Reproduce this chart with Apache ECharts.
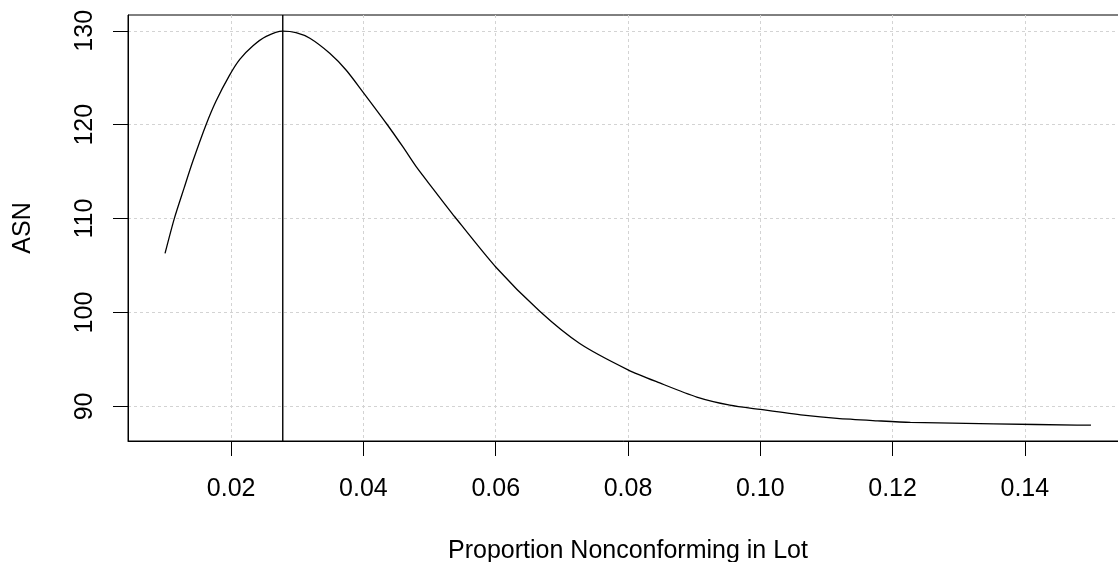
<!DOCTYPE html>
<html><head><meta charset="utf-8">
<script src="https://cdn.jsdelivr.net/npm/echarts@6/dist/echarts.min.js"></script>
<style>html,body{margin:0;padding:0;background:#fff}#c{width:1118px;height:562px}</style>
</head><body><div id="c"></div>
<script>
// Proportion nonconforming (x) and ASN (y)
const pValues = [0.010, 0.0114, 0.0129, 0.0142, 0.0162, 0.0177, 0.0197, 0.0213, 0.0233, 0.0253,
  0.0278, 0.0298, 0.0319, 0.0349, 0.0374, 0.0399, 0.0435, 0.0460, 0.0480, 0.0505,
  0.0538, 0.0600, 0.0667, 0.0727, 0.0800, 0.0848, 0.0904, 0.0954, 0.1000, 0.1065,
  0.1116, 0.1177, 0.1227, 0.1353, 0.1479, 0.1500];
const asnValues = [106.3, 110.0, 113.3, 116.1, 120.0, 122.5, 125.2, 126.95, 128.4, 129.4,
  129.96, 129.8, 129.2, 127.6, 125.8, 123.5, 120.1, 117.6, 115.5, 113.2,
  110.2, 104.85, 100.1, 96.7, 93.9, 92.5, 91.0, 90.14, 89.68, 89.07,
  88.72, 88.47, 88.30, 88.15, 88.01, 88.0];
const xTicks = [0.02, 0.04, 0.06, 0.08, 0.10, 0.12, 0.14];
const yTicks = [90, 100, 110, 120, 130];
const peakP = 0.0278;
const xRange = [0.0044, 0.1556];
const yRange = [86.32, 131.68];
const xTitle = 'Proportion Nonconforming in Lot';
const yTitle = 'ASN';

const FONT = 'Liberation Sans, Arial, sans-serif';
const chart = echarts.init(document.getElementById('c'), null, {renderer: 'canvas'});
const dataPairs = pValues.map((p, i) => [p, asnValues[i]]);
const gridLine = {show: true, lineStyle: {color: '#d3d3d3', width: 1, type: [3, 3]}};
chart.setOption({
  animation: false,
  backgroundColor: '#fff',
  grid: {left: 128, top: 15, right: -10, bottom: 121, outerBoundsMode: 'none', containLabel: false,
    show: true, borderColor: '#000', borderWidth: 1, backgroundColor: 'transparent'},
  xAxis: {
    type: 'value', min: xRange[0], max: xRange[1],
    name: xTitle, nameLocation: 'middle', nameGap: 98,
    nameTextStyle: {color: '#000', fontSize: 25, fontFamily: FONT},
    axisLine: {show: true, onZero: false, lineStyle: {color: '#000', width: 1}},
    axisTick: {show: true, inside: false, length: 15, customValues: xTicks, lineStyle: {color: '#000', width: 1}},
    axisLabel: {show: true, customValues: xTicks, margin: 36, color: '#000', fontSize: 25, fontFamily: FONT,
      formatter: v => v.toFixed(2)},
    splitLine: gridLine
  },
  yAxis: {
    type: 'value', min: yRange[0], max: yRange[1],
    name: yTitle, nameLocation: 'middle', nameGap: 92, nameRotate: 90,
    nameTextStyle: {color: '#000', fontSize: 25, fontFamily: FONT},
    axisLine: {show: true, onZero: false, lineStyle: {color: '#000', width: 1}},
    axisTick: {show: true, inside: false, length: 15, customValues: yTicks, lineStyle: {color: '#000', width: 1}},
    axisLabel: {show: true, customValues: yTicks, rotate: 90, margin: 30, color: '#000', fontSize: 25, fontFamily: FONT},
    splitLine: gridLine
  },
  series: [{
    type: 'line', data: dataPairs, smooth: 0.25, showSymbol: false, symbol: 'none',
    lineStyle: {color: '#000', width: 1.3}
  }, {
    type: 'line', data: [[peakP, yRange[0]], [peakP, yRange[1]]], showSymbol: false, symbol: 'none',
    lineStyle: {color: '#000', width: 1.4}
  }]
});
</script></body></html>
